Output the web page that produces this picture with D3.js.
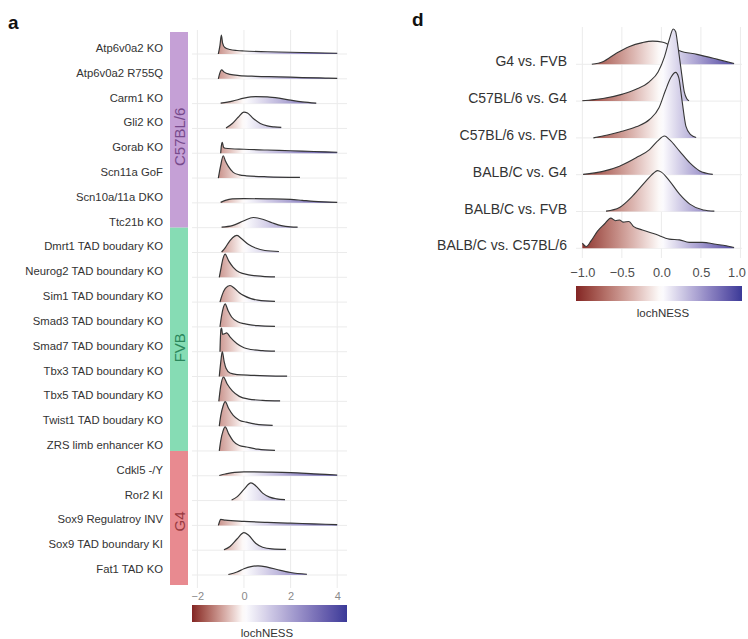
<!DOCTYPE html>
<html>
<head>
<meta charset="utf-8">
<script src="https://cdn.jsdelivr.net/npm/d3@7"></script>
<style>
body { margin: 0; background: #fff; }
svg { font-family: "Liberation Sans", Arial, sans-serif; }
</style>
</head>
<body>
<div id="chart"></div>
<script>
// panel a: lochNESS densities per mouse model, grouped by strain
var modelsA = ["Atp6v0a2 KO", "Atp6v0a2 R755Q", "Carm1 KO", "Gli2 KO", "Gorab KO", "Scn11a GoF",
    "Scn10a/11a DKO", "Ttc21b KO", "Dmrt1 TAD boudary KO", "Neurog2 TAD boundary KO",
    "Sim1 TAD boundary KO", "Smad3 TAD boundary KO", "Smad7 TAD boundary KO", "Tbx3 TAD boundary KO",
    "Tbx5 TAD boundary KO", "Twist1 TAD boudary KO", "ZRS limb enhancer KO", "Cdkl5 -/Y", "Ror2 KI",
    "Sox9 Regulatroy INV", "Sox9 TAD boundary KI", "Fat1 TAD KO"];
var strainsA = ["C57BL/6", "FVB", "G4"];
var strainCountA = [8, 9, 5];
var ticksA = [-2, 0, 2, 4];

// [lochNESS, density] pairs
var densityA = [
    [[-1.1,0],[-1.03,0.35],[-0.97,0.76],[-0.92,0.45],[-0.82,0.26],[-0.6,0.18],[-0.3,0.14],[0,0.12],[1,0.09],[2,0.07],[3,0.05],[4,0.03]],
    [[-1.1,0],[-1.04,0.22],[-0.96,0.36],[-0.85,0.27],[-0.6,0.18],[-0.2,0.13],[0.5,0.1],[1.5,0.08],[2.5,0.05],[3.5,0.03],[4,0.02]],
    [[-1.0,0.02],[-0.5,0.1],[0,0.22],[0.5,0.28],[1.0,0.27],[1.5,0.22],[2.0,0.14],[2.5,0.07],[3.1,0.02]],
    [[-0.77,0.02],[-0.5,0.2],[-0.25,0.45],[0,0.66],[0.15,0.62],[0.4,0.4],[0.7,0.2],[1.0,0.1],[1.3,0.06],[1.6,0.04]],
    [[-1.0,0],[-0.97,0.3],[-0.93,0.44],[-0.88,0.25],[-0.8,0.2],[0,0.16],[1,0.13],[2,0.1],[3,0.07],[4,0.04]],
    [[-1.1,0],[-1.0,0.5],[-0.89,0.9],[-0.8,0.7],[-0.67,0.47],[-0.46,0.23],[-0.2,0.13],[0.1,0.09],[1.0,0.05],[2.4,0.03]],
    [[-1.0,0.02],[-0.8,0.1],[-0.5,0.16],[0,0.17],[1,0.16],[2,0.14],[2.5,0.1],[3,0.06],[4,0.02]],
    [[-0.96,0.02],[-0.5,0.08],[0,0.28],[0.4,0.41],[0.8,0.34],[1.2,0.2],[1.6,0.08],[2.0,0.03],[2.3,0.02]],
    [[-0.96,0.02],[-0.8,0.2],[-0.6,0.48],[-0.4,0.66],[-0.3,0.69],[-0.1,0.55],[0.2,0.32],[0.5,0.18],[0.9,0.08],[1.5,0.04]],
    [[-1.06,0],[-1.0,0.3],[-0.9,0.75],[-0.81,0.93],[-0.65,0.65],[-0.46,0.4],[-0.2,0.2],[0.2,0.1],[0.8,0.04],[1.33,0.02]],
    [[-1.03,0],[-0.95,0.25],[-0.8,0.55],[-0.6,0.67],[-0.4,0.55],[-0.2,0.38],[0,0.26],[0.3,0.14],[0.6,0.08],[1.33,0.03]],
    [[-1.03,0],[-0.97,0.4],[-0.88,0.8],[-0.81,0.93],[-0.68,0.65],[-0.53,0.4],[-0.25,0.2],[0,0.13],[0.6,0.05],[1.33,0.02]],
    [[-1.03,0],[-0.99,0.9],[-0.96,0.95],[-0.92,0.7],[-0.85,0.72],[-0.74,0.76],[-0.6,0.6],[-0.31,0.33],[0,0.16],[0.3,0.09],[0.8,0.04],[1.33,0.02]],
    [[-1.06,0],[-1.0,0.55],[-0.93,1.0],[-0.85,0.6],[-0.77,0.33],[-0.6,0.14],[-0.3,0.08],[0.3,0.05],[1.0,0.03],[1.85,0.02]],
    [[-1.08,0],[-1.0,0.6],[-0.88,0.98],[-0.72,0.7],[-0.5,0.42],[-0.2,0.2],[0.2,0.09],[0.8,0.04],[1.55,0.02]],
    [[-1.06,0],[-1.0,0.4],[-0.9,0.8],[-0.81,0.99],[-0.65,0.7],[-0.46,0.43],[-0.2,0.24],[0.1,0.16],[0.5,0.08],[1.23,0.03]],
    [[-1.06,0],[-1.0,0.4],[-0.9,0.8],[-0.81,0.97],[-0.65,0.68],[-0.46,0.4],[-0.2,0.22],[0.11,0.16],[0.6,0.07],[1.33,0.02]],
    [[-1.06,0.01],[-0.8,0.07],[-0.4,0.14],[0,0.16],[1,0.15],[2,0.13],[3,0.08],[4,0.03]],
    [[-0.53,0.02],[-0.3,0.15],[0,0.45],[0.3,0.71],[0.5,0.6],[0.8,0.3],[1.1,0.14],[1.4,0.07],[1.76,0.04]],
    [[-1.1,0],[-1.05,0.15],[-1.0,0.24],[-0.8,0.21],[0,0.16],[1,0.12],[2,0.09],[3,0.06],[4,0.03]],
    [[-0.86,0.02],[-0.6,0.15],[-0.3,0.45],[0,0.71],[0.2,0.6],[0.5,0.28],[0.8,0.12],[1.2,0.05],[1.8,0.03]],
    [[-0.67,0.02],[-0.3,0.12],[0,0.25],[0.3,0.34],[0.6,0.37],[1.0,0.32],[1.5,0.2],[2.0,0.1],[2.7,0.03]]
];

// panel d: strain comparisons
var comparisonsD = ["G4 vs. FVB", "C57BL/6 vs. G4", "C57BL/6 vs. FVB", "BALB/C vs. G4",
    "BALB/C vs. FVB", "BALB/C vs. C57BL/6"];
var ticksD = [-1, -0.5, 0, 0.5, 1];
var densityD = [
    [[-0.88,0],[-0.74,0.07],[-0.57,0.3],[-0.41,0.48],[-0.24,0.59],[-0.11,0.63],[0.02,0.6],[0.12,0.5],[0.23,0.37],[0.45,0.27],[0.7,0.14],[0.92,0.02]],
    [[-1.0,0.01],[-0.74,0.07],[-0.49,0.19],[-0.32,0.32],[-0.15,0.53],[-0.04,0.8],[0.04,1.21],[0.1,1.67],[0.15,1.96],[0.18,1.89],[0.21,1.48],[0.25,0.85],[0.29,0.25],[0.32,0.07],[0.35,0.01]],
    [[-0.86,0],[-0.53,0.16],[-0.32,0.3],[-0.15,0.5],[-0.03,0.82],[0.05,1.28],[0.12,1.64],[0.18,1.78],[0.22,1.64],[0.26,1.04],[0.31,0.32],[0.37,0.09],[0.44,0.01]],
    [[-0.99,0.01],[-0.74,0.09],[-0.53,0.23],[-0.32,0.46],[-0.15,0.68],[-0.05,0.91],[0.04,1.05],[0.1,0.96],[0.23,0.64],[0.36,0.32],[0.48,0.11],[0.65,0.01]],
    [[-0.7,0.01],[-0.53,0.11],[-0.36,0.43],[-0.21,0.79],[-0.1,1.04],[-0.05,1.11],[0.0,1.07],[0.1,0.84],[0.23,0.47],[0.36,0.2],[0.53,0.04],[0.67,0.01]],
    [[-1.0,0.14],[-0.95,0.05],[-0.89,0.2],[-0.81,0.46],[-0.72,0.66],[-0.64,0.82],[-0.58,0.75],[-0.53,0.77],[-0.48,0.71],[-0.41,0.73],[-0.35,0.59],[-0.24,0.5],[-0.07,0.38],[0.1,0.25],[0.23,0.23],[0.35,0.16],[0.52,0.16],[0.69,0.11],[0.82,0.07],[0.92,0.02]]
];

var strainFill = ["#c5a0d6", "#86dcb4", "#e88a90"];
var strainInk = ["#774a8c", "#2b875c", "#983a41"];
var low = "#832424", high = "#3a3a98";
var gridCol = "#ebebeb";

var svg = d3.select("#chart").append("svg").attr("width", 748).attr("height", 639);
var defs = svg.append("defs");

var makeGradient = function (id, x, color) {
    var dom = x.domain(), rng = x.range();
    var grad = defs.append("linearGradient").attr("id", id)
        .attr("gradientUnits", "userSpaceOnUse")
        .attr("x1", rng[0]).attr("x2", rng[1]).attr("y1", 0).attr("y2", 0);
    grad.selectAll("stop").data(d3.range(0, 1.0001, 0.025)).enter().append("stop")
        .attr("offset", function (t) { return t; })
        .attr("stop-color", function (t) { return color(dom[0] + t * (dom[1] - dom[0])); });
};

var drawPanel = function (opt) {
    var g = svg.append("g");
    var x = opt.x, y = opt.y, h = opt.h;

    // grid
    g.selectAll(".vg").data(opt.ticks).enter().append("line")
        .attr("x1", function (d) { return x(d); }).attr("x2", function (d) { return x(d); })
        .attr("y1", opt.gridTop).attr("y2", opt.gridBottom)
        .style("stroke", gridCol).style("stroke-width", 1);
    g.selectAll(".hg").data(opt.names).enter().append("line")
        .attr("x1", x.range()[0]).attr("x2", x.range()[1])
        .attr("y1", function (d) { return y(d); }).attr("y2", function (d) { return y(d); })
        .style("stroke", gridCol).style("stroke-width", 1);

    // ridges, top row first so lower rows overlay
    opt.names.forEach(function (name, i) {
        var base = y(name);
        var area = d3.area().curve(d3.curveMonotoneX)
            .x(function (d) { return x(d[0]); })
            .y0(base)
            .y1(function (d) { return base - h(d[1]); });
        var line = d3.line().curve(d3.curveMonotoneX)
            .x(function (d) { return x(d[0]); })
            .y(function (d) { return base - h(d[1]); });
        g.append("path").attr("d", area(opt.dens[i])).style("fill", "url(#" + opt.grad + ")");
        g.append("path").attr("d", line(opt.dens[i]))
            .style("fill", "none").style("stroke", "#363636").style("stroke-width", opt.lw)
            .style("stroke-linejoin", "round");
    });

    // row labels
    g.selectAll(".lab").data(opt.names).enter().append("text")
        .attr("x", opt.labelX).attr("y", function (d) { return y(d) - opt.labelUp; })
        .attr("text-anchor", "end").attr("dominant-baseline", "central")
        .style("font-size", opt.labelSize + "px").style("fill", "#333")
        .text(function (d) { return d; });

    // x axis
    var ax = g.append("g").attr("transform", "translate(0," + opt.axisY + ")")
        .call(d3.axisBottom(x).tickValues(opt.ticks).tickSize(0).tickFormat(opt.fmt));
    ax.select(".domain").remove();
    ax.selectAll("text").attr("dy", "0.35em").attr("y", 0)
        .style("font-size", opt.tickSize + "px").style("fill", opt.tickCol)
        .style("font-family", "Liberation Sans, Arial, sans-serif");
    if (opt.lastTickEnd) {
        // keep the last label inside the window
        ax.selectAll(".tick:last-of-type text").attr("text-anchor", "end").attr("x", opt.lastTickEnd);
    }

    // colour bar
    g.append("rect").attr("x", x.range()[0]).attr("y", opt.barY)
        .attr("width", x.range()[1] - x.range()[0]).attr("height", opt.barH)
        .style("fill", "url(#" + opt.grad + ")");
    g.append("text").attr("x", opt.barLabelX).attr("y", opt.barLabelY)
        .attr("text-anchor", "middle").attr("dominant-baseline", "central")
        .style("font-size", "11.5px").style("fill", "#333").text("lochNESS");

    g.append("text").attr("x", opt.tagX).attr("y", opt.tagY)
        .attr("dominant-baseline", "central")
        .style("font-size", "19px").style("font-weight", "bold").style("fill", "#111")
        .text(opt.tag);
    return g;
};

// panel a
var xA = d3.scaleLinear().domain([-2.23, 4.42]).range([192, 347]);
var yA = d3.scalePoint().domain(modelsA).range([54, 575]);
var hA = d3.scaleLinear().domain([0, 1]).range([0, 24.8]);
var colA = d3.scaleLinear().domain([-2.23, 0, 4.42]).range([low, "#ffffff", high]).interpolate(d3.interpolateLab);
makeGradient("gradA", xA, colA);

var gA = drawPanel({
    x: xA, y: yA, h: hA, names: modelsA, dens: densityA, ticks: ticksA, grad: "gradA",
    gridTop: 30, gridBottom: 588, labelX: 163, labelUp: 6, labelSize: 11.3, lw: 1.2,
    axisY: 596, fmt: d3.format("d"), tickSize: 11, tickCol: "#8a8a8a",
    barY: 605, barH: 17, barLabelX: 267, barLabelY: 633, tag: "a", tagX: 8, tagY: 22
});

// strain side bar
var groupsA = [];
var start = 0;
strainsA.forEach(function (s, i) {
    var rows = modelsA.slice(start, start + strainCountA[i]);
    groupsA.push({ strain: s, idx: i, first: rows[0], last: rows[rows.length - 1] });
    start += strainCountA[i];
});
groupsA.forEach(function (gr, i) {
    var top = i === 0 ? yA(gr.first) - 22 : yA(groupsA[i - 1].last);
    var bot = i === groupsA.length - 1 ? yA(gr.last) + 10 : yA(gr.last);
    gA.append("rect").attr("x", 170).attr("y", top).attr("width", 18).attr("height", bot - top)
        .style("fill", strainFill[i]);
    var cy = (yA(gr.first) + yA(gr.last)) / 2 - 4;
    gA.append("text").attr("transform", "translate(179," + cy + ") rotate(-90)")
        .attr("text-anchor", "middle").attr("dominant-baseline", "central")
        .style("font-size", "15px").style("fill", strainInk[i]).text(gr.strain);
});

// panel d
var xD = d3.scaleLinear().domain([-1.08, 1.02]).range([576, 742]);
var yD = d3.scalePoint().domain(comparisonsD).range([64.3, 248.3]);
var hD = d3.scaleLinear().domain([0, 1]).range([0, 36.8]);
var colD = d3.scaleLinear().domain([-1.08, 0, 1.02]).range([low, "#ffffff", high]).interpolate(d3.interpolateLab);
makeGradient("gradD", xD, colD);

drawPanel({
    x: xD, y: yD, h: hD, names: comparisonsD, dens: densityD, ticks: ticksD, grad: "gradD",
    gridTop: 27, gridBottom: 258, labelX: 567, labelUp: 3, labelSize: 14, lw: 1.1,
    axisY: 273, fmt: d3.format(".1f"), tickSize: 12.8, tickCol: "#4d4d4d", lastTickEnd: 5,
    barY: 286, barH: 15, barLabelX: 663, barLabelY: 313, tag: "d", tagX: 412, tagY: 19
});
</script>
</body>
</html>
